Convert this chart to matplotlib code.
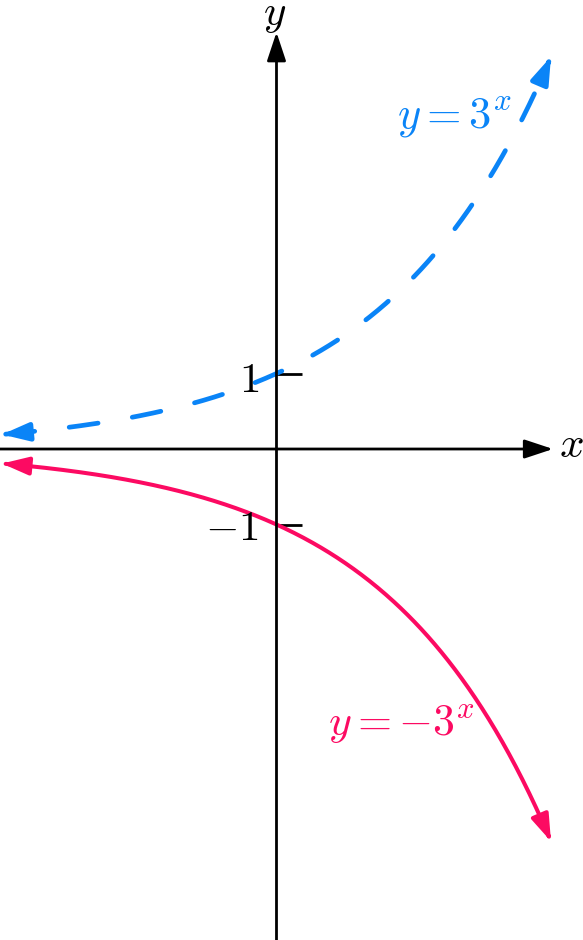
import numpy as np
import matplotlib
matplotlib.use("Agg")
import matplotlib.pyplot as plt
from matplotlib.patches import ArrowStyle

plt.rcParams['mathtext.fontset'] = 'cm'
plt.rcParams['lines.scale_dashes'] = False

# ---- data ----
base = 3
domain = [-1.5, 1.5]
y_ticks = [1, -1]
y_tick_labels = [r'$1$', r'$-1$']
label_pos = r'$y = 3^x$'
label_neg = r'$y = -3^x$'

BLUE = '#0a84f7'
RED = '#fc0a62'

fig = plt.figure(figsize=(5.83, 9.40), dpi=100)
ax = fig.add_axes([0, 0, 1, 1])
ax.set_xlim(-1.511, 1.675)
ax.set_ylim(-6.503, 5.947)
ax.axis('off')

def head(col, lw, hl=17.5, hw=5.8):
    return dict(arrowstyle=ArrowStyle('-|>', head_length=hl, head_width=hw),
                color=col, lw=lw, shrinkA=0, shrinkB=0, mutation_scale=1)

AX_LW = 2.0
# axes
ax.annotate('', xy=(1.511, 0), xytext=(-1.6, 0), arrowprops=head('black', AX_LW))
ax.annotate('', xy=(0, 5.52), xytext=(0, -7), arrowprops=head('black', AX_LW))
ax.text(1.61, -0.1, r'$x$', fontsize=31, ha='center', va='baseline')
ax.text(-0.01, 5.62, r'$y$', fontsize=31, ha='center', va='baseline')

# ticks
for t in y_ticks:
    ax.plot([0, 0.14], [t, t], color='black', lw=AX_LW, solid_capstyle='butt')
for t, lab, by in zip(y_ticks, y_tick_labels, [0.755, -1.205]):
    ax.text(-0.096, by, lab, fontsize=31, ha='right', va='baseline')

# curves
x0, x1 = domain
xs = np.linspace(x0 + 0.02, x1 - 0.03, 400)
f = lambda x: base ** x

ax.plot(xs, f(xs), color=BLUE, lw=3.4, linestyle=(0, (21, 25)),
        dash_capstyle='round')
ax.plot(xs, -f(xs), color=RED, lw=2.9, solid_capstyle='round')

d = 0.06
for sgn, col, lw in [(1, BLUE, 3.4), (-1, RED, 2.9)]:
    ax.annotate('', xy=(x0, sgn * f(x0)), xytext=(x0 + d, sgn * f(x0 + d)),
                arrowprops=head(col, lw, 16, 5.4))
    ax.annotate('', xy=(x1, sgn * f(x1)), xytext=(x1 - d / 4, sgn * f(x1 - d / 4)),
                arrowprops=head(col, lw, 16, 5.4))

ax.text(0.66, (449 - 128) / 75.5, label_pos, fontsize=32, color=BLUE,
        ha='left', va='baseline')
ax.text(0.28, -(735 - 449) / 75.5, label_neg, fontsize=31.5, color=RED,
        ha='left', va='baseline')

fig.savefig('out.png', dpi=100)
